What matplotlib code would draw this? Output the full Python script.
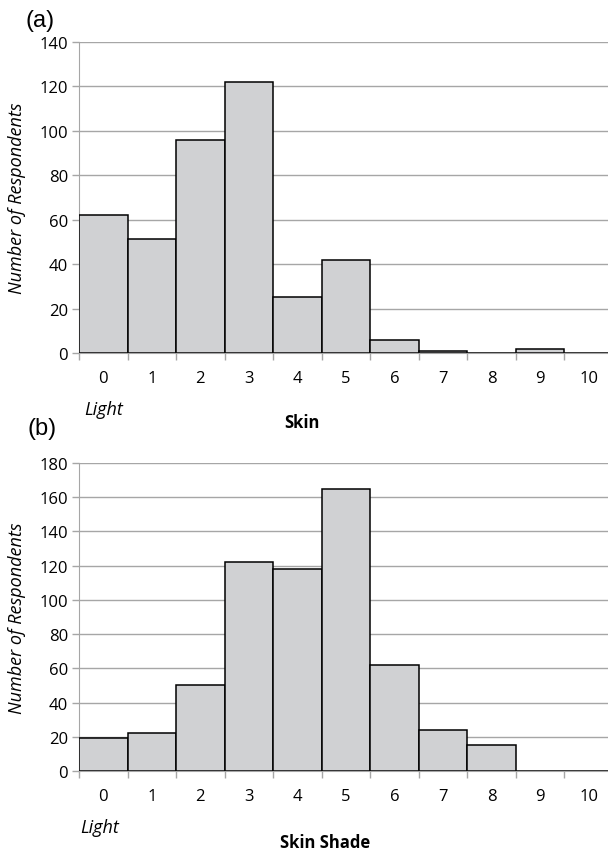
import numpy as np
import matplotlib
matplotlib.use('Agg')
from matplotlib import pyplot as plt

# skin shade categories 0..10
shades = list(range(11))
tick_labels = [str(s) for s in shades]

# panel (a) Skin, panel (b) Skin Shade
skin_counts = [62, 51.5, 96, 122, 25, 42, 6, 1, 0, 2, 0]
shade_counts = [19, 22, 50, 122, 118, 165, 62, 24, 15, 0, 0]

plt.rcParams['font.family'] = ['Open Sans', 'DejaVu Sans']

W, H = 608, 854
fig = plt.figure(figsize=(W / 100, H / 100), dpi=100)

GRID = '#a6a6a6'
BAR = '#d0d1d3'


def px(x, y):
    return x / W, 1 - y / H


def panel(top, bottom, counts, ymax, xlabel, letter, light_xy, xlabel_xy, letter_xy):
    ax = fig.add_axes([79 / W, 1 - bottom / H, 534 / W, (bottom - top) / H])
    ax.bar(shades, counts, width=1.0, color=BAR, edgecolor='black', linewidth=1.1, zorder=3)
    ax.set_xlim(-0.5, 10.5)
    ax.set_ylim(0, ymax)
    ax.set_yticks(np.arange(0, ymax + 1, 20))
    ax.yaxis.grid(True, color=GRID, linewidth=1.0, zorder=0)
    ax.set_xticks(shades)
    ax.set_xticklabels(tick_labels)
    ax.set_xticks(np.arange(-0.5, 10.6, 1), minor=True)
    ax.tick_params(axis='x', which='major', length=0, pad=12, labelsize=12)
    ax.tick_params(axis='x', which='minor', length=5, color=GRID, width=1.0, direction='out')
    ax.tick_params(axis='y', length=5, color=GRID, width=1.0, labelsize=12, pad=3)
    for s in ['top', 'right']:
        ax.spines[s].set_visible(False)
    ax.spines['left'].set_color(GRID)
    ax.spines['bottom'].set_color(GRID)
    ax.spines['bottom'].set_zorder(4)
    ax.set_ylabel('Number of Respondents', fontstyle='italic', fontsize=13)
    ax.yaxis.label.set_va('center')
    ax.yaxis.set_label_coords((17 - 79) / 534, 0.5)
    fig.text(*px(*light_xy), 'Light', fontstyle='italic',
             fontsize=13, ha='left', va='center')
    fig.text(*px(*xlabel_xy), xlabel, fontweight='bold',
             fontsize=12, ha='center', va='center')
    fig.text(*px(*letter_xy), letter, family='Liberation Sans',
             fontsize=17, ha='center', va='center')
    return ax


ax_a = panel(43, 354, skin_counts, 140, 'Skin', '(a)',
             (84, 410), (302, 423), (40, 21))
ax_b = panel(464, 772, shade_counts, 180, 'Skin Shade', '(b)',
             (80, 828), (325, 843), (42, 429))

fig.savefig('out.png', dpi=100)
